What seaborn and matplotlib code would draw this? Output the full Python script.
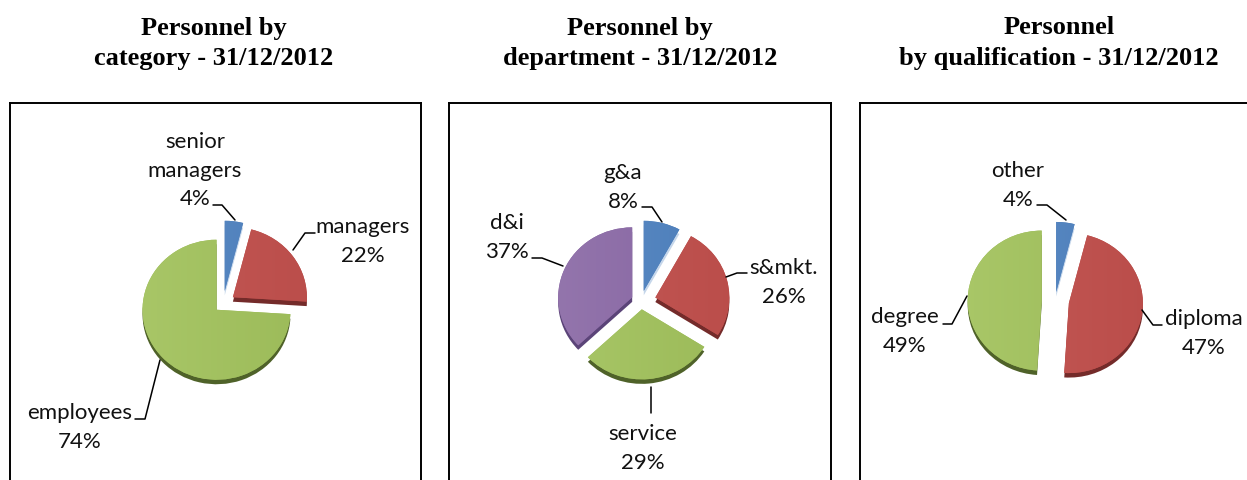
import matplotlib
matplotlib.use("Agg")
import matplotlib.pyplot as plt
from matplotlib.colors import LinearSegmentedColormap
from matplotlib.transforms import Affine2D
import numpy as np
import seaborn as sns

# Headcount shares, in percent
category_names = ["senior\nmanagers", "managers", "employees"]
category_values = [4, 22, 74]
department_names = ["g&a", "s&mkt.", "service", "d&i"]
department_values = [8, 26, 29, 37]
qualification_names = ["other", "diploma", "degree"]
qualification_values = [4, 47, 49]

W, H = 1247, 480
sns.set_theme(style="white")
plt.rcParams["font.family"] = ["Lato", "DejaVu Sans"]

fig = plt.figure(figsize=(W / 100, H / 100), dpi=100, facecolor="white")
to_px = Affine2D().scale(1, -1).translate(0, H)  # canvas pixels, origin top left

face_left = sns.color_palette(["#5f8fc8", "#c65a57", "#a9c768", "#9476ad"])
face_right = sns.color_palette(["#4a7bb7", "#ba4d4a", "#9bba58", "#8563a0"])
side = sns.color_palette(["#c5d6ea", "#742b2a", "#4f6229", "#5b4478"])
RX, RY, DEPTH = 74.0, 70.0, 4.5

panels = [
    dict(title=["Personnel by", "category - 31/12/2012"], title_x=214,
         names=category_names, values=category_values, colors=[0, 1, 2],
         frame=(10, 103, 421, 495), centre=(223, 304), explode=[0.19, 0.165, 0.12],
         labels=[(195, 141), (363, 226), (80, 412)],
         leaders=[[(213, 205), (222, 205), (235, 220)],
                  [(315, 233), (305, 233), (293, 250)],
                  [(135, 419), (145, 419), (160, 360)]]),
    dict(title=["Personnel by", "department - 31/12/2012"], title_x=640,
         names=department_names, values=department_values, colors=[0, 1, 2, 3],
         frame=(449, 103, 831, 495), centre=(641, 301), explode=[0.15, 0.2, 0.12, 0.13],
         labels=[(623, 172), (784, 267), (643, 433), (507, 222)],
         leaders=[[(642, 207), (652, 207), (662, 222)],
                  [(747, 273), (737, 273), (726, 277)],
                  [(651, 387), (651, 413)],
                  [(532, 258), (542, 258), (563, 266)]]),
    dict(title=["Personnel", "by qualification - 31/12/2012"], title_x=1059,
         names=qualification_names, values=qualification_values, colors=[0, 1, 2],
         frame=(860, 103, 1265, 495), centre=(1055, 301), explode=[0.13, 0.19, 0.18],
         labels=[(1018, 170), (1204, 318), (905, 316)],
         leaders=[[(1037, 205), (1047, 205), (1066, 220)],
                  [(1162, 325), (1153, 325), (1142, 310)],
                  [(943, 324), (952, 324), (967, 296)]]),
]

ramp = np.linspace(0, 1, 64).reshape(1, -1)

for p in panels:
    x0, y0, x1, y1 = p["frame"]
    cx, cy = p["centre"]
    ax = fig.add_axes([x0 / W, 1 - y1 / H, (x1 - x0) / W, (y1 - y0) / H])

    # Extruded side of the pie, then the top face shifted above it
    ax.pie(p["values"], explode=p["explode"], startangle=90, counterclock=False,
           colors=[side[i] for i in p["colors"]], center=(0, -DEPTH / RY),
           wedgeprops=dict(linewidth=0))
    wedges, _ = ax.pie(p["values"], explode=p["explode"], startangle=90, counterclock=False,
                       colors=[face_right[i] for i in p["colors"]],
                       wedgeprops=dict(linewidth=0))
    for wedge, i in zip(wedges, p["colors"]):
        cmap = LinearSegmentedColormap.from_list("face", [face_left[i], face_right[i]])
        im = ax.imshow(ramp, cmap=cmap, extent=(-1.3, 1.3, -1.3, 1.3), aspect="auto",
                       zorder=wedge.get_zorder() + 0.1)
        im.set_clip_path(wedge)

    ax.set_aspect("auto")
    ax.set_xlim((x0 - cx) / RX, (x1 - cx) / RX)
    ax.set_ylim((cy - y1) / RY, (cy - y0) / RY)
    ax.set_xticks([])
    ax.set_yticks([])
    ax.set_frame_on(True)
    for spine in ax.spines.values():
        spine.set_visible(True)
        spine.set_color("black")
        spine.set_linewidth(1.4)

    for row, line in enumerate(p["title"]):
        fig.text(p["title_x"], 28 + 30 * row, line, transform=to_px, ha="center", va="center",
                 family="Liberation Serif", weight="bold", fontsize=19, color="black")

    for name, value, (lx, ly), leader in zip(p["names"], p["values"], p["labels"], p["leaders"]):
        rows = name.split("\n") + [f"{value}%"]
        for k, row in enumerate(rows):
            fig.text(lx, ly + 1 + 28.7 * k, row, transform=to_px, ha="center", va="center",
                     fontsize=16, color="#111111")
        xs, ys = zip(*leader)
        fig.add_artist(plt.Line2D(xs, ys, transform=to_px, color="black", linewidth=1.1))

fig.savefig("out.png", dpi=100, facecolor="white")
